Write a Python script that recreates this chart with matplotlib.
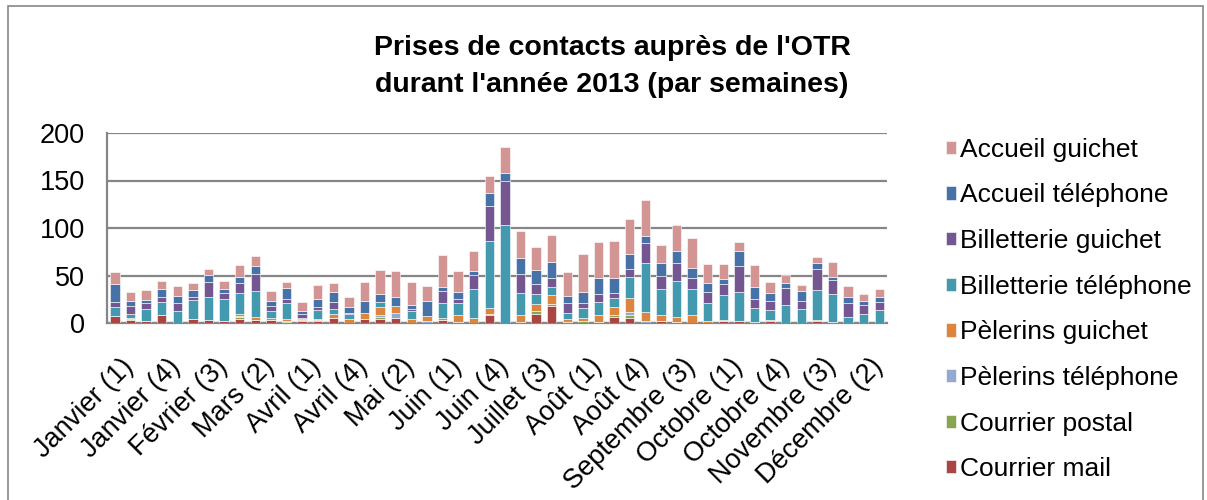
### Prises de contacts OTR 2013 - histogramme empilé par semaines

import matplotlib.pyplot as plt
import matplotlib.transforms as mtransforms
from matplotlib.patches import Rectangle
import numpy as np

plt.rcParams['font.family'] = ['Liberation Sans', 'DejaVu Sans']

# semaines (50)
weeks = (["Janvier (%d)" % i for i in range(1, 5)]
         + ["Février (%d)" % i for i in range(1, 5)]
         + ["Mars (%d)" % i for i in range(1, 5)]
         + ["Avril (%d)" % i for i in range(1, 6)]
         + ["Mai (%d)" % i for i in range(1, 5)]
         + ["Juin (%d)" % i for i in range(1, 5)]
         + ["Juillet (%d)" % i for i in range(1, 6)]
         + ["Août (%d)" % i for i in range(1, 5)]
         + ["Septembre (%d)" % i for i in range(1, 6)]
         + ["Octobre (%d)" % i for i in range(1, 5)]
         + ["Novembre (%d)" % i for i in range(1, 5)]
         + ["Décembre (%d)" % i for i in range(1, 4)])

# series, bas -> haut
courrier_mail = [7, 3, 2, 8, 0, 4, 3, 2, 4, 3.5,
                 3, 1, 2, 2, 5, 0.5, 4, 4, 5, 0,
                 0, 3, 0, 0, 8, 0, 0, 10, 18, 1.5,
                 0, 1, 6, 5.5, 0, 2, 1.5, 0, 0, 2.5,
                 2, 1.4, 2, 0, 0, 2, 1.4, 0, 0, 0]
courrier_postal = [0, 1, 0, 0, 0, 0, 0, 0, 2, 0,
                   0.5, 1, 1, 1, 0, 0, 0, 2, 0, 0,
                   0, 0, 0, 0, 1, 0, 0, 3, 2.5, 0,
                   2, 0, 2, 2.8, 0, 0, 0, 0, 0, 0,
                   0, 0, 1.5, 0, 0, 1.5, 0, 0, 0, 0]
pelerins_tel = [0, 0, 0, 0, 0, 0, 0, 0, 1, 0,
                0, 0, 0, 0, 0, 0, 0, 2, 5.5, 0,
                2, 0, 1.5, 0, 1, 0, 1.5, 0, 0, 0,
                0, 0, 0, 2.8, 2, 0, 0, 0, 0, 0,
                0, 0, 0, 0, 0, 0, 0, 0, 0, 0]
pelerins_guichet = [0, 1, 0, 0, 0, 0, 0, 0, 2, 2.8,
                    1.5, 2, 1.5, 1.5, 4, 3.5, 7, 8.8, 7, 4.5,
                    5, 2.6, 7.3, 5, 5.8, 0, 7, 7.4, 9, 3,
                    3, 7, 8.5, 15, 9.2, 6.4, 5.2, 8.8, 2.5, 1,
                    0, 0, 0, 0, 0, 0, 0, 0, 0, 0]
billet_tel = [10, 4.5, 13, 14.5, 13, 20.5, 24.4, 23, 22.6, 27.4,
              8, 17.3, 1, 9.7, 5.7, 5.3, 0, 5, 0, 8.5,
              0, 15.8, 12.2, 30.8, 70.5, 103, 23.2, 10.2, 8.8, 6,
              10.8, 14.4, 9.8, 22, 52, 27.4, 37.5, 27.3, 19, 26,
              30.6, 14.4, 10.2, 19, 14.7, 31, 29, 6.3, 9.5, 13.3]
billet_guichet = [5, 8, 6, 4.5, 8, 3, 15.4, 7, 10.5, 18,
                  4.5, 3.8, 4, 2.8, 7, 1.4, 0, 0, 0, 2,
                  0, 12, 4.3, 15, 36.5, 46, 20, 10.5, 8.8, 10.5,
                  5, 7.7, 5.3, 8.4, 20.5, 13.3, 19, 11.2, 11.2, 11.6,
                  27, 9.5, 9.1, 17.5, 8.8, 22, 14.7, 14.7, 9.8, 8.5]
accueil_tel = [19, 6, 3.5, 9, 7, 7.6, 7.4, 4, 6.4, 8,
               5.3, 12, 3, 8, 10.5, 6.3, 12, 8.7, 10, 3.6,
               15.8, 4.2, 7, 3.5, 13.7, 9, 16.8, 15, 17.2, 7,
               11.6, 16.8, 15.8, 16.2, 7.7, 14.5, 12.3, 10.2, 9.5, 5.3,
               15.8, 13, 8.8, 5.3, 10.5, 6.7, 3.2, 6.3, 4.2, 5.6]
accueil_guichet = [13, 9, 10, 8.5, 11, 7, 7, 8, 12.3, 11.2,
                   11, 6, 10, 15, 9.5, 10.2, 19.7, 25.5, 27, 24.6,
                   16.5, 34.5, 22, 21.7, 18.2, 27, 28, 24, 28, 25.7,
                   40.3, 38.6, 39, 36.8, 38.3, 18.6, 27.4, 32.3, 19.6, 16,
                   10.2, 22.5, 12, 9.1, 6.3, 6.7, 16, 12, 7.4, 8]

series = [
    ("Courrier mail", courrier_mail, "#A94542"),
    ("Courrier postal", courrier_postal, "#8AA552"),
    ("Pèlerins téléphone", pelerins_tel, "#94A9CF"),
    ("Pèlerins guichet", pelerins_guichet, "#DC853F"),
    ("Billetterie téléphone", billet_tel, "#4399AE"),
    ("Billetterie guichet", billet_guichet, "#745691"),
    ("Accueil téléphone", accueil_tel, "#4672A8"),
    ("Accueil guichet", accueil_guichet, "#D39593"),
]

fig = plt.figure(figsize=(12.07, 5.0), dpi=100)
ax = fig.add_axes([0.0887, 0.354, 0.6462, 0.38])

x = np.arange(len(weeks))
bottom = np.zeros(len(weeks))
handles = []
for name, vals, col in series:
    vals = np.array(vals, dtype=float)
    b = ax.bar(x, vals, 0.6, bottom=bottom, color=col, edgecolor='white',
               linewidth=0.4, label=name, zorder=3)
    handles.append(b)
    bottom += vals

ax.set_xlim(-0.5, len(weeks) - 0.5)
ax.set_ylim(0, 200)
ax.set_yticks([0, 50, 100, 150, 200])
ax.yaxis.grid(True, color='#868686', linewidth=1.6, zorder=0)
ax.set_axisbelow(True)
for s in ['top', 'right']:
    ax.spines[s].set_visible(False)
for s in ['left', 'bottom']:
    ax.spines[s].set_color('#868686')
    ax.spines[s].set_linewidth(1.6)
ax.tick_params(axis='y', length=0, pad=16, labelsize=19.5)
ax.tick_params(axis='x', length=0, pad=22, labelsize=19.5)

ax.set_xticks(x[::3])
ax.set_xticklabels(weeks[::3], rotation=45, ha='right', va='top',
                   rotation_mode='anchor')
# petit décalage vers la droite des libellés
shift = mtransforms.ScaledTranslation(0.06, 0, fig.dpi_scale_trans)
for lab in ax.get_xticklabels():
    lab.set_transform(lab.get_transform() + shift)

fig.suptitle("Prises de contacts auprès de l'OTR\ndurant l'année 2013 (par semaines)",
             x=0.507, y=0.93, fontsize=20.5, fontweight='bold', linespacing=1.55)

fig.legend(handles[::-1], [s[0] for s in series][::-1], loc='center left',
           bbox_to_anchor=(0.764, 0.381), frameon=False, fontsize=19,
           handlelength=0.4, handleheight=0.4, handletextpad=0.15,
           labelspacing=0.82)

# cadre du graphique
fig.patches.append(Rectangle((8 / 1207, -0.01), 1195 / 1207, 0.998,
                             transform=fig.transFigure, fill=False,
                             edgecolor='#868686', linewidth=1.2))

plt.savefig("out.png", dpi=100)
